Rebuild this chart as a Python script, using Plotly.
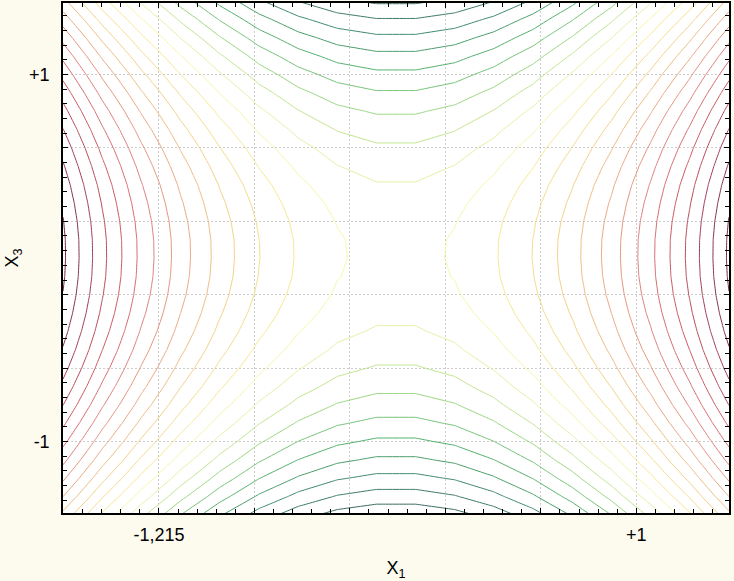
import plotly.graph_objects as go

# grid nodes of the fitted surface (X1 across, X3 up)
x1_nodes = [-1.66, -1.478, -1.297, -1.115, -0.933, -0.751, -0.569, -0.388, -0.206,
            -0.024, 0.158, 0.339, 0.521, 0.703, 0.885, 1.066, 1.248, 1.43]
x3_nodes = [-1.4, -1.3, -1.2, -1.1, -1.0, -0.9, -0.8, -0.7, -0.6, -0.5, -0.4, -0.3, -0.2, -0.1, 0.0,
            0.1, 0.2, 0.3, 0.4, 0.5, 0.6, 0.7, 0.8, 0.9, 1.0, 1.1, 1.2, 1.3, 1.4]

z_rows = [
    [4.72, 1.82, -0.74, -2.98, -4.88, -6.44, -7.59, -8.37, -8.75, -8.75, -8.37, -7.59, -6.44, -4.88, -2.98, -0.74, 1.82, 4.72],
    [6.01, 3.11, 0.55, -1.69, -3.59, -5.15, -6.30, -7.08, -7.46, -7.46, -7.08, -6.30, -5.15, -3.59, -1.69, 0.55, 3.11, 6.01],
    [7.20, 4.30, 1.74, -0.50, -2.40, -3.96, -5.11, -5.89, -6.27, -6.27, -5.89, -5.11, -3.96, -2.40, -0.50, 1.74, 4.30, 7.20],
    [8.30, 5.40, 2.84, 0.60, -1.30, -2.86, -4.01, -4.79, -5.17, -5.17, -4.79, -4.01, -2.86, -1.30, 0.60, 2.84, 5.40, 8.30],
    [9.30, 6.40, 3.84, 1.60, -0.30, -1.86, -3.01, -3.79, -4.17, -4.17, -3.79, -3.01, -1.86, -0.30, 1.60, 3.84, 6.40, 9.30],
    [10.21, 7.31, 4.75, 2.51, 0.61, -0.95, -2.10, -2.88, -3.26, -3.26, -2.88, -2.10, -0.95, 0.61, 2.51, 4.75, 7.31, 10.21],
    [11.03, 8.13, 5.57, 3.33, 1.43, -0.13, -1.28, -2.06, -2.44, -2.44, -2.06, -1.28, -0.13, 1.43, 3.33, 5.57, 8.13, 11.03],
    [11.75, 8.85, 6.29, 4.05, 2.15, 0.59, -0.56, -1.34, -1.72, -1.72, -1.34, -0.56, 0.59, 2.15, 4.05, 6.29, 8.85, 11.75],
    [12.38, 9.48, 6.92, 4.68, 2.78, 1.22, 0.07, -0.71, -1.09, -1.09, -0.71, 0.07, 1.22, 2.78, 4.68, 6.92, 9.48, 12.38],
    [12.92, 10.02, 7.46, 5.22, 3.32, 1.76, 0.61, -0.17, -0.55, -0.55, -0.17, 0.61, 1.76, 3.32, 5.22, 7.46, 10.02, 12.92],
    [13.36, 10.46, 7.90, 5.66, 3.76, 2.20, 1.05, 0.27, -0.11, -0.11, 0.27, 1.05, 2.20, 3.76, 5.66, 7.90, 10.46, 13.36],
    [13.71, 10.81, 8.25, 6.01, 4.11, 2.55, 1.40, 0.62, 0.24, 0.24, 0.62, 1.40, 2.55, 4.11, 6.01, 8.25, 10.81, 13.71],
    [13.97, 11.07, 8.51, 6.27, 4.37, 2.81, 1.66, 0.88, 0.50, 0.50, 0.88, 1.66, 2.81, 4.37, 6.27, 8.51, 11.07, 13.97],
    [14.13, 11.23, 8.67, 6.43, 4.53, 2.97, 1.82, 1.04, 0.66, 0.66, 1.04, 1.82, 2.97, 4.53, 6.43, 8.67, 11.23, 14.13],
    [14.19, 11.29, 8.73, 6.49, 4.59, 3.03, 1.88, 1.10, 0.72, 0.72, 1.10, 1.88, 3.03, 4.59, 6.49, 8.73, 11.29, 14.19],
    [14.17, 11.27, 8.71, 6.47, 4.57, 3.01, 1.86, 1.08, 0.70, 0.70, 1.08, 1.86, 3.01, 4.57, 6.47, 8.71, 11.27, 14.17],
    [14.05, 11.15, 8.59, 6.35, 4.45, 2.89, 1.74, 0.96, 0.58, 0.58, 0.96, 1.74, 2.89, 4.45, 6.35, 8.59, 11.15, 14.05],
    [13.83, 10.93, 8.37, 6.13, 4.23, 2.67, 1.52, 0.74, 0.36, 0.36, 0.74, 1.52, 2.67, 4.23, 6.13, 8.37, 10.93, 13.83],
    [13.53, 10.63, 8.07, 5.83, 3.93, 2.37, 1.22, 0.44, 0.06, 0.06, 0.44, 1.22, 2.37, 3.93, 5.83, 8.07, 10.63, 13.53],
    [13.12, 10.22, 7.66, 5.42, 3.52, 1.96, 0.81, 0.03, -0.35, -0.35, 0.03, 0.81, 1.96, 3.52, 5.42, 7.66, 10.22, 13.12],
    [12.63, 9.73, 7.17, 4.93, 3.03, 1.47, 0.32, -0.46, -0.84, -0.84, -0.46, 0.32, 1.47, 3.03, 4.93, 7.17, 9.73, 12.63],
    [12.04, 9.14, 6.58, 4.34, 2.44, 0.88, -0.27, -1.05, -1.43, -1.43, -1.05, -0.27, 0.88, 2.44, 4.34, 6.58, 9.14, 12.04],
    [11.36, 8.46, 5.90, 3.66, 1.76, 0.20, -0.95, -1.73, -2.11, -2.11, -1.73, -0.95, 0.20, 1.76, 3.66, 5.90, 8.46, 11.36],
    [10.58, 7.68, 5.12, 2.88, 0.98, -0.58, -1.73, -2.51, -2.89, -2.89, -2.51, -1.73, -0.58, 0.98, 2.88, 5.12, 7.68, 10.58],
    [9.71, 6.81, 4.25, 2.01, 0.11, -1.45, -2.60, -3.38, -3.76, -3.76, -3.38, -2.60, -1.45, 0.11, 2.01, 4.25, 6.81, 9.71],
    [8.75, 5.85, 3.29, 1.05, -0.85, -2.41, -3.56, -4.34, -4.72, -4.72, -4.34, -3.56, -2.41, -0.85, 1.05, 3.29, 5.85, 8.75],
    [7.69, 4.79, 2.23, -0.01, -1.91, -3.47, -4.62, -5.40, -5.78, -5.78, -5.40, -4.62, -3.47, -1.91, -0.01, 2.23, 4.79, 7.69],
    [6.54, 3.64, 1.08, -1.16, -3.06, -4.62, -5.77, -6.55, -6.93, -6.93, -6.55, -5.77, -4.62, -3.06, -1.16, 1.08, 3.64, 6.54],
    [5.30, 2.40, -0.16, -2.40, -4.30, -5.86, -7.01, -7.79, -8.17, -8.17, -7.79, -7.01, -5.86, -4.30, -2.40, -0.16, 2.40, 5.30],
]

x1_ticks = [-1.215, -0.772, -0.329, 0.114, 0.557, 1.0]
x1_labels = ['-1,215', '', '', '', '', '+1']
x3_ticks = [-1.0, -0.6, -0.2, 0.2, 0.6, 1.0]
x3_labels = ['-1', '', '', '', '', '+1']

line_colors = [
    [0.0, '#3d6b63'],
    [0.09, '#3f8a6a'],
    [0.18, '#52b06c'],
    [0.27, '#96d680'],
    [0.32, '#c4e690'],
    [0.36, '#e3f0a4'],
    [0.41, '#f8f6a8'],
    [0.45, '#f6ea90'],
    [0.55, '#f2d084'],
    [0.64, '#eca682'],
    [0.73, '#e07f7c'],
    [0.82, '#cc5860'],
    [0.91, '#a23e5a'],
    [1.0, '#6a2848'],
]

fig = go.Figure([
    go.Contour(
        x=x1_nodes,
        y=x3_nodes,
        z=z_rows,
        contours=dict(coloring='lines', start=-8, end=14, size=1),
        line=dict(width=1, smoothing=0),
        colorscale=line_colors,
        showscale=False,
        hoverinfo='skip',
    )
])

axis_font = dict(family="Liberation Sans, Arial, sans-serif", size=18, color='black')

fig.update_xaxes(
    range=[-1.66, 1.43],
    tickmode='array',
    tickvals=x1_ticks,
    ticktext=x1_labels,
    ticks='inside',
    ticklen=5,
    tickcolor='black',
    ticklabelstandoff=5,
    minor=dict(tickmode='linear', tick0=-1.215, dtick=0.0886, ticks='inside', ticklen=4, tickcolor='black', showgrid=False),
    showline=True,
    linecolor='black',
    linewidth=1.5,
    mirror='allticks',
    showgrid=True,
    gridcolor='#cccccc',
    griddash='2px,2px',
    zeroline=False,
    automargin=False,
    tickfont=axis_font,
    title=dict(text='X<sub>1</sub>', font=axis_font, standoff=20),
)
fig.update_yaxes(
    range=[-1.39, 1.39],
    tickmode='array',
    tickvals=x3_ticks,
    ticktext=x3_labels,
    ticks='inside',
    ticklen=5,
    tickcolor='black',
    ticklabelstandoff=8,
    minor=dict(tickmode='linear', tick0=-1.0, dtick=0.08, ticks='inside', ticklen=4, tickcolor='black', showgrid=False),
    showline=True,
    linecolor='black',
    linewidth=1.5,
    mirror='allticks',
    showgrid=True,
    gridcolor='#cccccc',
    griddash='2px,2px',
    zeroline=False,
    automargin=False,
    tickfont=axis_font,
    title=dict(text='X<sub>3</sub>', font=axis_font, standoff=6),
)
fig.update_layout(
    width=734,
    height=581,
    margin=dict(l=63, r=5, t=3, b=68),
    paper_bgcolor='#fdfaee',
    plot_bgcolor='white',
    showlegend=False,
)

# page has a default body margin; drop it so the figure fills the window
fig.write_html(
    "out.html",
    config={'displayModeBar': False},
    post_script="document.body.style.margin='0'; document.body.style.background='#fdfaee';",
)
